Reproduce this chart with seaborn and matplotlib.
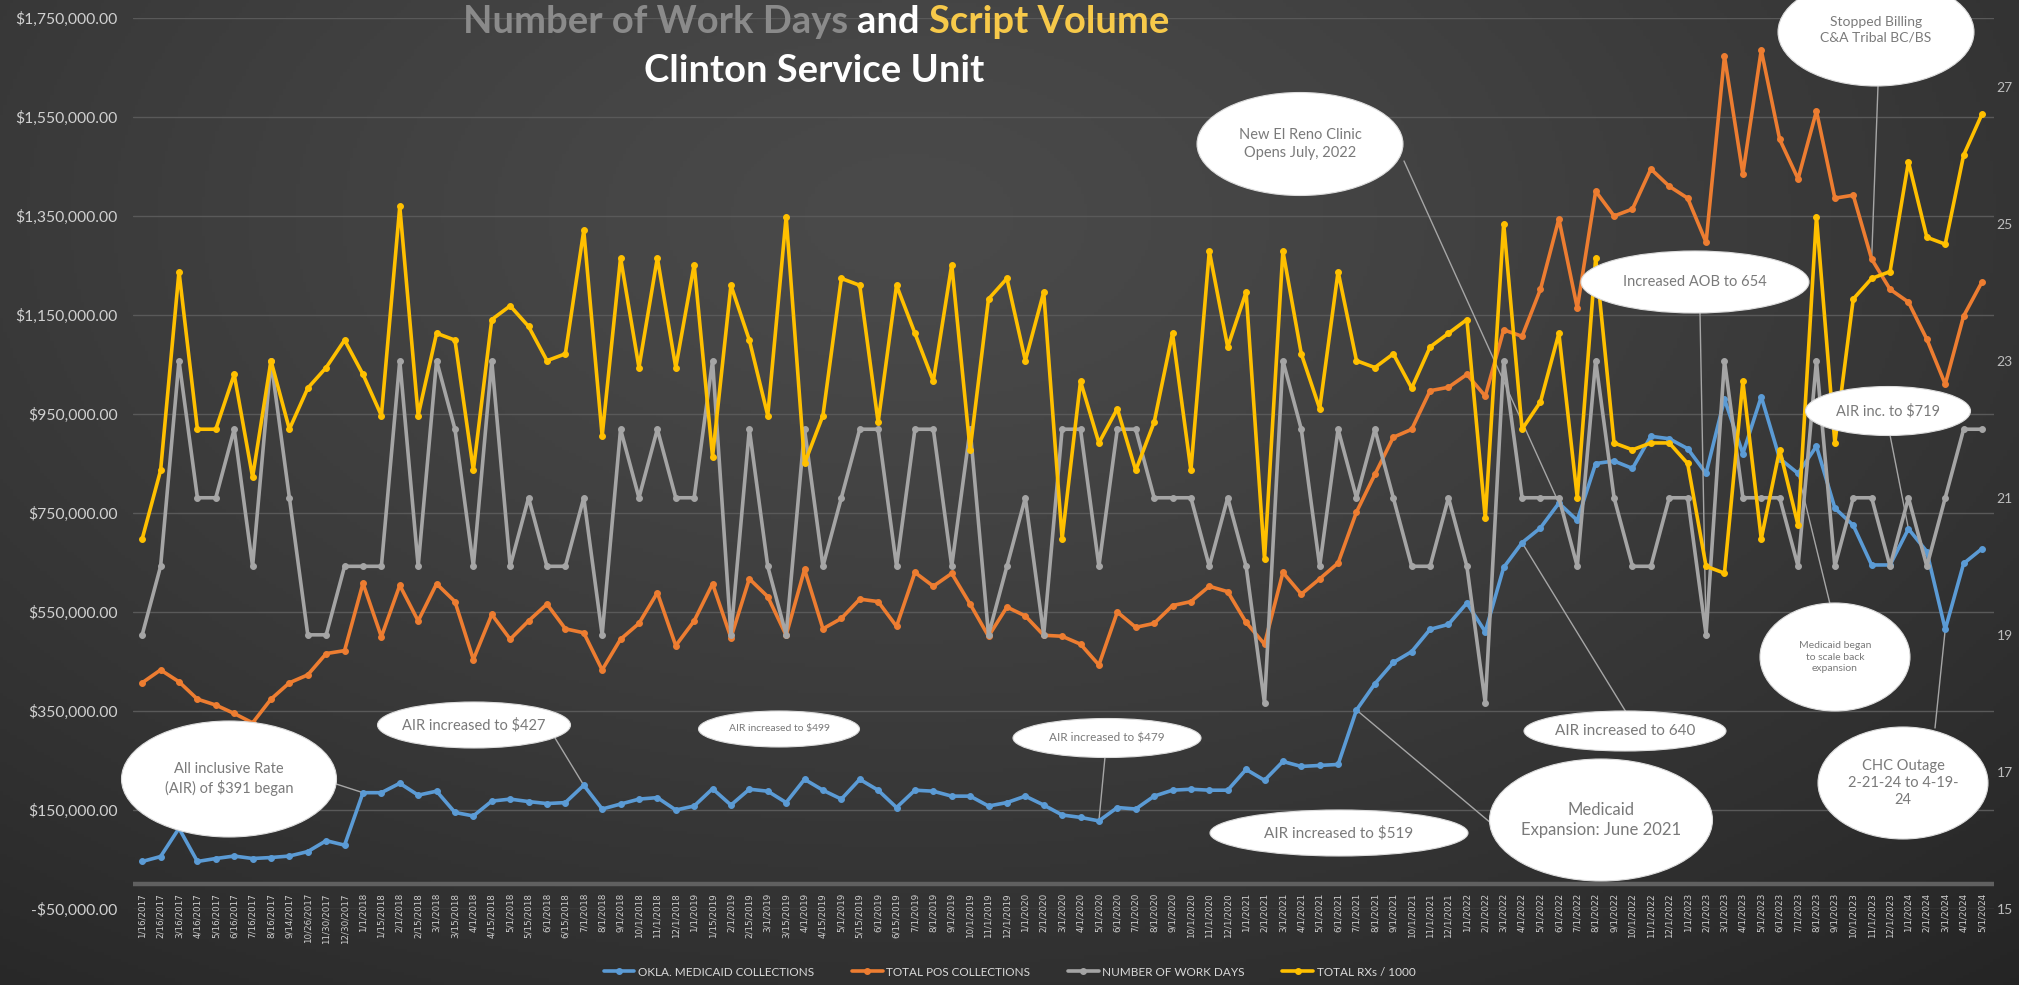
import numpy as np
import pandas as pd
import matplotlib
matplotlib.use("Agg")
import matplotlib.pyplot as plt
import seaborn as sns
from matplotlib.patches import Ellipse
from matplotlib.lines import Line2D
from matplotlib.ticker import FuncFormatter

# ---------------- data ----------------
dates = [
    "1/16/2017", "2/16/2017", "3/16/2017", "4/16/2017", "5/16/2017", "6/16/2017",
    "7/16/2017", "8/16/2017", "9/14/2017", "10/26/2017", "11/30/2017", "12/30/2017",
    "1/1/2018", "1/15/2018", "2/1/2018", "2/15/2018", "3/1/2018", "3/15/2018",
    "4/1/2018", "4/15/2018", "5/1/2018", "5/15/2018", "6/1/2018", "6/15/2018",
    "7/1/2018", "8/1/2018", "9/1/2018", "10/1/2018", "11/1/2018", "12/1/2018",
    "1/1/2019", "1/15/2019", "2/1/2019", "2/15/2019", "3/1/2019", "3/15/2019",
    "4/1/2019", "4/15/2019", "5/1/2019", "5/15/2019", "6/1/2019", "6/15/2019",
    "7/1/2019", "8/1/2019", "9/1/2019", "10/1/2019", "11/1/2019", "12/1/2019",
    "1/1/2020", "2/1/2020", "3/1/2020", "4/1/2020", "5/1/2020", "6/1/2020",
    "7/1/2020", "8/1/2020", "9/1/2020", "10/1/2020", "11/1/2020", "12/1/2020",
    "1/1/2021", "2/1/2021", "3/1/2021", "4/1/2021", "5/1/2021", "6/1/2021",
    "7/1/2021", "8/1/2021", "9/1/2021", "10/1/2021", "11/1/2021", "12/1/2021",
    "1/1/2022", "2/1/2022", "3/1/2022", "4/1/2022", "5/1/2022", "6/1/2022",
    "7/1/2022", "8/1/2022", "9/1/2022", "10/1/2022", "11/1/2022", "12/1/2022",
    "1/1/2023", "2/1/2023", "3/1/2023", "4/1/2023", "5/1/2023", "6/1/2023",
    "7/1/2023", "8/1/2023", "9/1/2023", "10/1/2023", "11/1/2023", "12/1/2023",
    "1/1/2024", "2/1/2024", "3/1/2024", "4/1/2024", "5/1/2024",
]

# OKLA. Medicaid collections (thousands of $)
medicaid_k = [
    46, 56, 113, 46, 52, 57, 52, 54, 57, 66, 88, 79, 185, 185, 204,
    180, 188, 145, 138, 168, 172, 167, 163, 165, 200, 152, 162, 172, 175, 150,
    158, 193, 160, 192, 188, 165, 212, 190, 172, 212, 190, 155, 190, 188, 178,
    178, 158, 165, 178, 160, 140, 135, 128, 155, 152, 178, 190, 192, 190, 190,
    232, 210, 248, 238, 240, 242, 352, 405, 448, 470, 515, 525, 568, 510, 640,
    690, 720, 770, 735, 850, 855, 840, 905, 900, 880, 830, 980, 870, 985, 860,
    830, 885, 760, 725, 645, 645, 718, 672, 515, 648, 678,
]

# Total POS collections (thousands of $)
pos_k = [
    407, 433, 409, 374, 362, 345, 326, 374, 407, 423, 466, 472, 608, 500, 604,
    532, 607, 571, 454, 545, 495, 532, 566, 516, 508,
    433, 495, 527, 589, 482, 532, 607, 498, 617, 581,
    503, 636, 516, 537, 576, 571, 521, 630, 602, 628,
    566, 501, 560, 542, 503, 501, 485, 443, 550, 519,
    527, 563, 571, 602, 591, 529, 485, 630, 586, 617,
    649, 752, 828, 903, 919, 997, 1004, 1030, 986,
    1120, 1107, 1202, 1344, 1164, 1400, 1350, 1364, 1445, 1410, 1386, 1297, 1673,
    1435, 1685, 1505, 1425, 1562, 1386, 1392, 1263, 1202, 1176, 1101, 1010, 1148, 1217,
]

# Number of work days
work_days = [
    19, 20, 23, 21, 21, 22, 20, 23, 21, 19, 19, 20, 20, 20, 23, 20, 23, 22, 20, 23,
    20, 21, 20, 20, 21, 19, 22, 21, 22, 21, 21, 23, 19, 22, 20, 19, 22, 20, 21, 22,
    22, 20, 22, 22, 20, 22, 19, 20, 21, 19, 22, 22, 20, 22, 22, 21, 21, 21, 20, 21,
    20, 18, 23, 22, 20, 22, 21, 22, 21, 20, 20, 21, 20, 18, 23, 21, 21, 21, 20, 23,
    21, 20, 20, 21, 21, 19, 23, 21, 21, 21, 20, 23, 20, 21, 21, 20, 21, 20, 21, 22, 22,
]

# Total RXs / 1000
rx_k = [
    20.4, 21.4, 24.3, 22.0, 22.0, 22.8, 21.3, 23.0, 22.0, 22.6, 22.9, 23.3, 22.8, 22.2, 25.25,
    22.2, 23.4, 23.3, 21.4, 23.6, 23.8, 23.5, 23.0, 23.1, 24.9,
    21.9, 24.5, 22.9, 24.5, 22.9, 24.4, 21.6, 24.1, 23.3, 22.2,
    25.1, 21.5, 22.2, 24.2, 24.1, 22.1, 24.1, 23.4, 22.7, 24.4,
    21.7, 23.9, 24.2, 23.0, 24.0, 20.4, 22.7,
    21.8, 22.3, 21.4, 22.1, 23.4, 21.4, 24.6, 23.2, 24.0, 20.1,
    24.6, 23.1, 22.3, 24.3, 23.0, 22.9, 23.1, 22.6, 23.2, 23.4,
    23.6, 20.7, 25.0, 22.0, 22.4, 23.4, 21.0, 24.5, 21.8, 21.7, 21.8,
    21.8, 21.5, 20.0, 19.9, 22.7, 20.4, 21.7, 20.6, 25.1, 21.8,
    23.9, 24.2, 24.3, 25.9, 24.8, 24.7, 26.0, 26.6,
]

series_names = ["OKLA. MEDICAID COLLECTIONS", "TOTAL POS COLLECTIONS",
                "NUMBER OF WORK DAYS", "TOTAL RXs / 1000"]
colors = ["#5b9bd5", "#ed7d31", "#a5a5a5", "#ffc000"]

df = pd.DataFrame({
    "idx": np.arange(len(dates)),
    "medicaid": np.array(medicaid_k) * 1000.0,
    "pos": np.array(pos_k) * 1000.0,
    "days": work_days,
    "rx": rx_k,
})

# ---------------- style ----------------
sns.set_theme(style="dark")
plt.rcParams['font.family'] = ['Lato', 'DejaVu Sans']

W, H = 2019, 985
fig = plt.figure(figsize=(W / 100, H / 100), dpi=100)

# background radial gradient
bg = fig.add_axes([0, 0, 1, 1], zorder=-10)
gy, gx = np.mgrid[0:1:300j, 0:1:600j]
d = np.sqrt(((gx - 0.45) / 0.85) ** 2 + ((gy - 0.78) / 1.05) ** 2)
t = np.clip(d, 0, 1) ** 1.3
c0, c1 = np.array([74, 74, 74]) / 255, np.array([36, 36, 36]) / 255
img = c0[None, None, :] * (1 - t[..., None]) + c1[None, None, :] * t[..., None]
bg.imshow(img, extent=[0, 1, 0, 1], origin="lower", aspect="auto")
bg.set_axis_off()

ax_l, ax_r, ax_t, ax_b = 133, 1994, 18, 909
ax = fig.add_axes([ax_l / W, 1 - ax_b / H, (ax_r - ax_l) / W, (ax_b - ax_t) / H])
ax.set_facecolor("none")
ax2 = ax.twinx()

lw, ms = 2.6, 4.2
sns.lineplot(data=df, x="idx", y="medicaid", ax=ax, color=colors[0], marker="o",
             lw=lw, ms=ms, mec=colors[0], zorder=3)
sns.lineplot(data=df, x="idx", y="pos", ax=ax, color=colors[1], marker="o",
             lw=lw, ms=ms, mec=colors[1], zorder=3)
sns.lineplot(data=df, x="idx", y="days", ax=ax2, color=colors[2], marker="o",
             lw=lw, ms=ms, mec=colors[2], zorder=3)
sns.lineplot(data=df, x="idx", y="rx", ax=ax2, color=colors[3], marker="o",
             lw=lw, ms=ms, mec=colors[3], zorder=4)

for a in (ax, ax2):
    a.set_xlabel("")
    a.set_ylabel("")
    for s in a.spines.values():
        s.set_visible(False)

ax.set_xlim(-0.5, len(dates) - 1 + 0.65)
ax.set_ylim(-50000, 1750000)
ax.set_yticks(np.arange(-50000, 1750001, 200000))
ax.yaxis.set_major_formatter(FuncFormatter(
    lambda v, p: f"-${abs(v):,.2f}" if v < 0 else f"${v:,.2f}"))
ax.yaxis.grid(True, color="#595959", lw=1.0)
ax.xaxis.grid(False)
ax.axhline(0, color="#606060", lw=3.2, zorder=1)
ax.tick_params(axis="y", colors="#d0d0d0", labelsize=11.3, pad=11, length=0)
ax.set_xticks(df["idx"])
ax.set_xticklabels(dates, rotation=90, fontsize=6.3, color="#cfcfcf",
                   family="DejaVu Sans")
ax.tick_params(axis="x", pad=-11.5, length=0)

ax2.set_ylim(15, 28)
ax2.set_yticks(range(15, 28, 2))
ax2.grid(False)
ax2.tick_params(axis="y", colors="#bdbdbd", labelsize=10, pad=2, length=0)

# ---------------- title ----------------
renderer = fig.canvas.get_renderer()
parts = [("Number of Work Days ", "#8a8a8a"), ("and ", "#ffffff"), ("Script Volume", "#f7c94a")]
tsize = 24
texts = [fig.text(0, 1 - 22 / H, s, color=c, fontsize=tsize, fontweight="bold",
                  va="center", ha="left") for s, c in parts]
widths = [tx.get_window_extent(renderer).width for tx in texts]
scale = 706 / sum(widths)
for tx in texts:
    tx.set_fontsize(tsize * scale)
widths = [tx.get_window_extent(renderer).width for tx in texts]
x0 = 816 - sum(widths) / 2
for tx, w in zip(texts, widths):
    tx.set_x(x0 / W)
    x0 += w
t2 = fig.text(814 / W, 1 - 71 / H, "Clinton Service Unit", color="white",
              fontsize=tsize * scale, fontweight="bold", ha="center", va="center")

# ---------------- legend ----------------
handles = [Line2D([0], [0], color=c, lw=2.6, marker="o", ms=4, mec=c) for c in colors]
fig.legend(handles, series_names, loc="center", bbox_to_anchor=(0.5, 1 - 972 / H),
           ncol=4, frameon=False, fontsize=8.5, labelcolor="#d9d9d9",
           handlelength=2.6, columnspacing=3.2, handletextpad=0.3)

# ---------------- callouts ----------------
def callout(text, cx, cy, w, h, fs, target=None, start=None, tax=None, ty=None):
    fx, fy = cx / W, 1 - cy / H
    if target is not None:
        sx, sy = start
        tax.annotate("", xy=target, xycoords="data", xytext=(sx / W, 1 - sy / H),
                     textcoords="figure fraction", annotation_clip=False,
                     arrowprops=dict(arrowstyle="-", color="#a6a6a6", lw=1.0,
                                     shrinkA=0, shrinkB=0), zorder=2)
    e = Ellipse((fx, fy), w / W, h / H, transform=fig.transFigure,
                facecolor="white", edgecolor="#dcdcdc", lw=0.8, zorder=6)
    fig.add_artist(e)
    tyf = fy if ty is None else 1 - ty / H
    fig.text(fx, tyf, text, ha="center", va="center", fontsize=fs,
             color="#7a7a7a", zorder=7, linespacing=1.3)

callout("All inclusive Rate\n(AIR) of $391 began", 229, 779, 215, 116, 10.5,
        target=(12, medicaid_k[12] * 1000), start=(333, 783), tax=ax)
callout("AIR increased to $427", 474, 725, 193, 46, 10.5,
        target=(24, medicaid_k[24] * 1000), start=(555, 738), tax=ax)
callout("AIR increased to $499", 779, 729, 161, 36, 7.5)
callout("AIR increased to $479", 1107, 738, 188, 39, 8.5,
        target=(52, medicaid_k[52] * 1000), start=(1105, 757), tax=ax)
callout("AIR increased to $519", 1339, 833, 258, 46, 11)
callout("Medicaid\nExpansion: June 2021", 1601, 820, 223, 122, 12,
        target=(66, medicaid_k[66] * 1000), start=(1492, 824), tax=ax)
callout("AIR increased to 640", 1625, 731, 202, 40, 11,
        target=(75, medicaid_k[75] * 1000), start=(1626, 712), tax=ax)
callout("New El Reno Clinic\nOpens July, 2022", 1300, 144, 206, 103, 10.5,
        target=(77, medicaid_k[77] * 1000), start=(1404, 161), tax=ax)
callout("Increased AOB to 654", 1695, 282, 228, 62, 10.5,
        target=(85, work_days[85]), start=(1700, 313), tax=ax2)
callout("Stopped Billing\nC&A Tribal BC/BS", 1876, 32, 196, 108, 10,
        target=(94, pos_k[94] * 1000), start=(1878, 86), tax=ax, ty=30)
callout("AIR inc. to $719", 1888, 411, 165, 49, 10.5,
        target=(96, medicaid_k[96] * 1000), start=(1890, 435), tax=ax)
callout("Medicaid began\nto scale back\nexpansion", 1835, 657, 150, 108, 7.5,
        target=(90, medicaid_k[90] * 1000), start=(1830, 604), tax=ax)
callout("CHC Outage\n2-21-24 to 4-19-\n24", 1903, 783, 170, 112, 10.5,
        target=(98, medicaid_k[98] * 1000), start=(1935, 728), tax=ax)

fig.savefig("out.png", dpi=100, facecolor=fig.get_facecolor())
